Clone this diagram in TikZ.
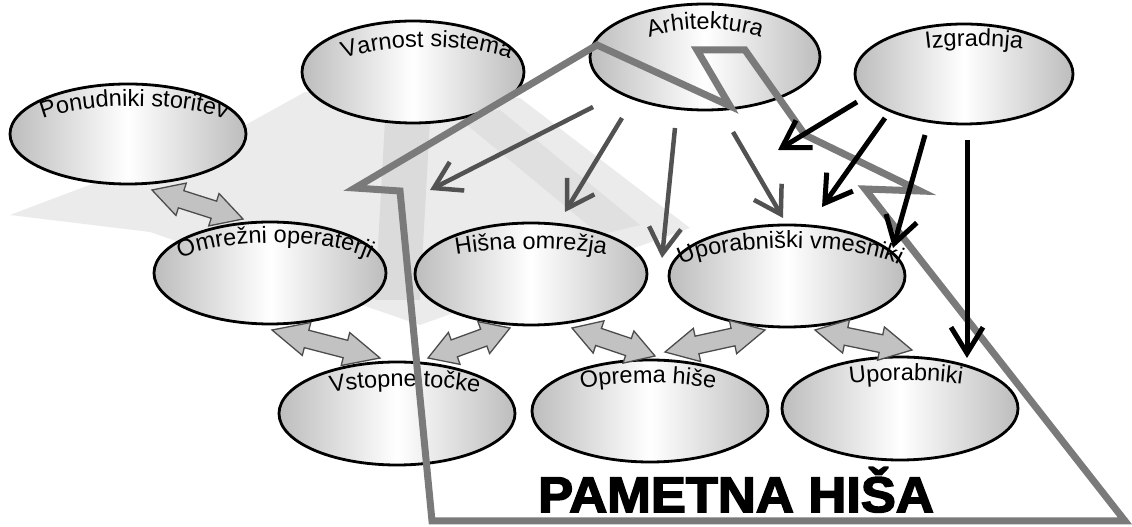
\documentclass[tikz,border=0pt]{standalone}
\usepackage{fontspec}
\setmainfont{Liberation Sans}
\newfontfamily\heavyfont[FakeBold=3, UprightFont={* Bold}]{Liberation Sans}
\usepackage{graphicx}
\usetikzlibrary{calc,arrows.meta,shapes.geometric,decorations.text}

\newcommand{\lblfont}{\fontsize{23.5}{23.5}\selectfont}
% curved text on the upper arc of a bubble: node, xshift, x radius, y radius, text
\newcommand{\toplabel}[5]{%
  \path[decorate, decoration={text along path, text align=center, text={|\lblfont|#5}}]
    ([xshift=#2pt]#1.center) ++(178:#3pt and #4pt)
    arc[start angle=178, end angle=2, x radius=#3pt, y radius=#4pt];}
% flat double arrow between two named coordinates
\newcommand{\dblarrow}[2]{%
  \path[dblarr] (#1)
    -- ($(#1)!0.32!(#2)!17pt!90:(#2)$) -- ($(#1)!0.32!(#2)!9pt!90:(#2)$)
    -- ($(#2)!0.32!(#1)!9pt!-90:(#1)$) -- ($(#2)!0.32!(#1)!17pt!-90:(#1)$)
    -- (#2)
    -- ($(#2)!0.32!(#1)!17pt!90:(#1)$) -- ($(#2)!0.32!(#1)!9pt!90:(#1)$)
    -- ($(#1)!0.32!(#2)!9pt!-90:(#2)$) -- ($(#1)!0.32!(#2)!17pt!-90:(#2)$)
    -- cycle;}

\begin{document}
\begin{tikzpicture}[x=1pt,y=1pt,
    bubble/.style={ellipse, draw=black, line width=2.8pt, inner sep=0pt,
      left color=black!26, right color=black!26, middle color=white},
    house/.style={draw=black!52, line width=7pt, line join=miter},
    grayarr/.style={draw=black!68, line width=4.5pt, -{Straight Barb[length=26pt,width=32pt]}},
    blackarr/.style={draw=black, line width=5pt, -{Straight Barb[length=26pt,width=32pt]}},
    dblarr/.style={fill=black!24, draw=black!70, line width=1.3pt, line join=miter},
    fan/.style={fill=black!8, draw=none}]
  \useasboundingbox (0,0) rectangle (1132,527);

  %
  % Light fan behind the bubbles
  %
  \path[fan] (305,435) -- (520,429) -- (690,299) -- (420,202) -- (150,295)
    -- (10,312) -- (240,399) -- cycle;
  \path[fan, fill=black!14] (385,407) -- (430,407) -- (420,227) -- (375,227) -- cycle;
  \path[fan, fill=black!12] (455,412) -- (500,417) -- (640,302) -- (600,292) -- cycle;

  %
  % Bubbles
  %
  \node[bubble, minimum width=236pt, minimum height=100pt] (pon) at (128,393) {};
  \node[bubble, minimum width=222pt, minimum height=102pt] (var) at (413,455) {};
  \node[bubble, minimum width=230pt, minimum height=106pt] (arh) at (705,470) {};
  \node[bubble, minimum width=218pt, minimum height=100pt] (izg) at (964,453) {};
  \node[bubble, minimum width=232pt, minimum height=102pt] (omr) at (270,254) {};
  \node[bubble, minimum width=232pt, minimum height=102pt] (his) at (531,253) {};
  \node[bubble, minimum width=236pt, minimum height=102pt] (vme) at (787,251) {};
  \node[bubble, minimum width=236pt, minimum height=103pt] (vst) at (397,113.5) {};
  \node[bubble, minimum width=236pt, minimum height=102pt] (opr) at (650,116) {};
  \node[bubble, minimum width=236pt, minimum height=103pt] (upo) at (900,118.5) {};

  \toplabel{pon}{6}{108}{28}{Ponudniki storitev}
  \toplabel{var}{14}{97}{25}{Varnost sistema}
  \toplabel{arh}{0}{78}{28}{Arhitektura}
  \toplabel{izg}{10}{110}{28}{Izgradnja}
  \toplabel{omr}{5}{108}{30}{Omrežni operaterji}
  \toplabel{his}{0}{115}{25}{Hišna omrežja}
  \toplabel{vme}{3}{118}{28}{Uporabniški vmesniki}
  \toplabel{vst}{8}{114}{27}{Vstopne točke}
  \toplabel{opr}{-2}{110}{28}{Oprema hiše}
  \toplabel{upo}{6}{115}{28}{Uporabniki}

  %
  % House outline
  %
  \draw[house] (597,482) -- (730,421) -- (697,477) -- (745,477) -- (805,392)
    -- (920,336) -- (865,338) -- (1125,6) -- (432,6) -- (400,336) -- (355,339) -- cycle;
  \node[anchor=base, font=\heavyfont\fontsize{50}{50}\selectfont] (title)
    at (736,15) {\scalebox{1.05}[1]{PAMETNA HIŠA}};

  %
  % Double arrows between the layers
  %
  \coordinate (da1) at (152,337); \coordinate (db1) at (243,308);
  \coordinate (da2) at (272,197); \coordinate (db2) at (380,169);
  \coordinate (da3) at (510,199); \coordinate (db3) at (428,169);
  \coordinate (da4) at (572,199); \coordinate (db4) at (655,171);
  \coordinate (da5) at (765,197); \coordinate (db5) at (665,175);
  \coordinate (da6) at (815,197); \coordinate (db6) at (912,177);
  \dblarrow{da1}{db1}
  \dblarrow{da2}{db2}
  \dblarrow{da3}{db3}
  \dblarrow{da4}{db4}
  \dblarrow{da5}{db5}
  \dblarrow{da6}{db6}

  %
  % Arrows from Arhitektura and Izgradnja
  %
  \coordinate (s1) at (593,420); \coordinate (t1) at (430,337);
  \coordinate (s2) at (622,409); \coordinate (t2) at (565,315);
  \coordinate (s3) at (675,399); \coordinate (t3) at (662,269);
  \coordinate (s4) at (733,395); \coordinate (t4) at (783,309);
  \coordinate (s5) at (857,425); \coordinate (t5) at (778,377);
  \coordinate (s6) at (885,409); \coordinate (t6) at (822,320);
  \coordinate (s7) at (925,392); \coordinate (t7) at (893,279);
  \coordinate (s8) at (967,387); \coordinate (t8) at (967,169);
  \foreach \i in {1,...,4}
    \draw[grayarr] (s\i) -- (t\i);
  \foreach \i in {5,...,8}
    \draw[blackarr] (s\i) -- (t\i);
\end{tikzpicture}
\end{document}
